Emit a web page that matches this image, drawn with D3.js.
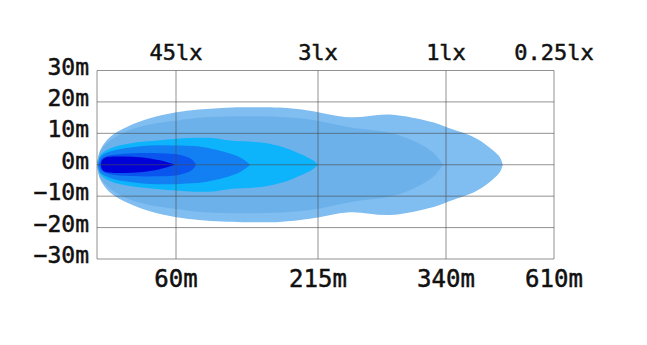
<!DOCTYPE html>
<html>
<head>
<meta charset="utf-8">
<script src="https://cdn.jsdelivr.net/npm/d3@7"></script>
<style>
  body { margin: 0; background: #fff; }
  text { font-family: "DejaVu Sans Mono", monospace; fill: #111; stroke: #111; stroke-width: 0.5px; }
</style>
</head>
<body>
<div id="chart"></div>
<script>
        // Axis data
        const distTicks = [60, 215, 340, 610];
        const distLabels = ["60m", "215m", "340m", "610m"];
        const luxLabels = ["45lx", "3lx", "1lx", "0.25lx"];
        const widthTicks = [30, 20, 10, 0, -10, -20, -30];

        // Isolux contours: [distance m, half width m]
        const iso025 = [[0, 0], [2.3, 4.5], [9.9, 8.8], [23.5, 12.2], [40.2, 14.8], [59.2, 16.6], [85, 17.6], [110, 18.1], [133, 18.3], [173, 18.2], [206, 17.2], [246, 15.1], [285, 16.0], [327, 13.5], [342, 11.9], [417, 8.3], [458, 4.5], [475, 2.3], [482, 0]];
        const iso1 = [[0, 0], [2.3, 4.0], [9.9, 7.6], [23.5, 10.8], [40, 12.8], [59.2, 14.0], [86, 15.0], [152, 15.4], [206, 14.4], [246, 11.9], [295, 9.3], [327, 4.0], [337, 0]];
        const iso3 = [[0.8, 0], [2.5, 3.0], [9.9, 5.2], [25, 6.8], [47.8, 7.8], [75, 8.5], [100, 8.5], [119, 7.7], [155, 7.0], [177, 5.6], [195, 3.5], [209.5, 1.4], [215, 0]];
        const iso10 = [[0.8, 0], [2.5, 2.5], [9.9, 4.2], [25, 5.5], [45, 6.2], [65, 6.1], [90, 5.6], [119, 3.6], [132, 2.0], [141, 0]];
        const iso20 = [[1.5, 0], [3.8, 2.0], [9.9, 3.0], [25, 3.6], [47.8, 3.7], [64, 3.2], [77.5, 1.7], [82, 0]];
        const iso45 = [[3, 0], [3.8, 1.4], [6.8, 2.3], [17.5, 2.6], [32.6, 2.4], [47.8, 1.4], [59.2, 0]];

        const contours = [iso025, iso1, iso3, iso10, iso20, iso45];
        const colors = ["#80bdf0", "#6cb1ea", "#0db4fb", "#1280f3", "#0a55ee", "#0000d8"];

        const width = 647;
        const height = 345;
        const svg = d3.select("#chart")
            .append("svg")
            .attr("width", width)
            .attr("height", height);

        // x is piecewise: each tick gets its own spot on the frame
        const x = d3.scaleLinear()
            .domain([0].concat(distTicks))
            .range([97, 176, 318, 446, 554]);
        const y = d3.scaleLinear()
            .domain([-30, 30])
            .range([259, 70.5]);

        const area = d3.area()
            .x(d => x(d[0]))
            .y0(d => y(-d[1]))
            .y1(d => y(d[1]))
            .curve(d3.curveCatmullRom.alpha(0.5));

        svg.append("g")
            .selectAll("path")
            .data(contours)
            .enter()
            .append("path")
            .attr("d", area)
            .attr("fill", (d, i) => colors[i]);

        // Grid on top of the beam
        const grid = svg.append("g")
            .attr("stroke", "#4a4a4a")
            .attr("stroke-opacity", 0.6)
            .attr("stroke-width", 1);

        grid.selectAll("line.h")
            .data(widthTicks)
            .enter()
            .append("line")
            .attr("x1", x(0))
            .attr("x2", x(610))
            .attr("y1", d => y(d))
            .attr("y2", d => y(d));

        grid.selectAll("line.v")
            .data([0].concat(distTicks))
            .enter()
            .append("line")
            .attr("x1", d => x(d))
            .attr("x2", d => x(d))
            .attr("y1", y(30))
            .attr("y2", y(-30));

        // Labels
        svg.append("g")
            .selectAll("text")
            .data(widthTicks)
            .enter()
            .append("text")
            .attr("x", 89)
            .attr("y", d => y(d) + 4)
            .attr("text-anchor", "end")
            .attr("font-size", "23px")
            .text(d => (d < 0 ? "\u2212" + Math.abs(d) : d) + "m");

        svg.append("g")
            .selectAll("text")
            .data(distTicks)
            .enter()
            .append("text")
            .attr("x", d => x(d))
            .attr("y", 287)
            .attr("text-anchor", "middle")
            .attr("font-size", "24px")
            .text((d, i) => distLabels[i]);

        svg.append("g")
            .selectAll("text")
            .data(distTicks)
            .enter()
            .append("text")
            .attr("x", d => x(d))
            .attr("y", 60)
            .attr("text-anchor", "middle")
            .attr("font-size", "22px")
            .text((d, i) => luxLabels[i]);
</script>
</body>
</html>
